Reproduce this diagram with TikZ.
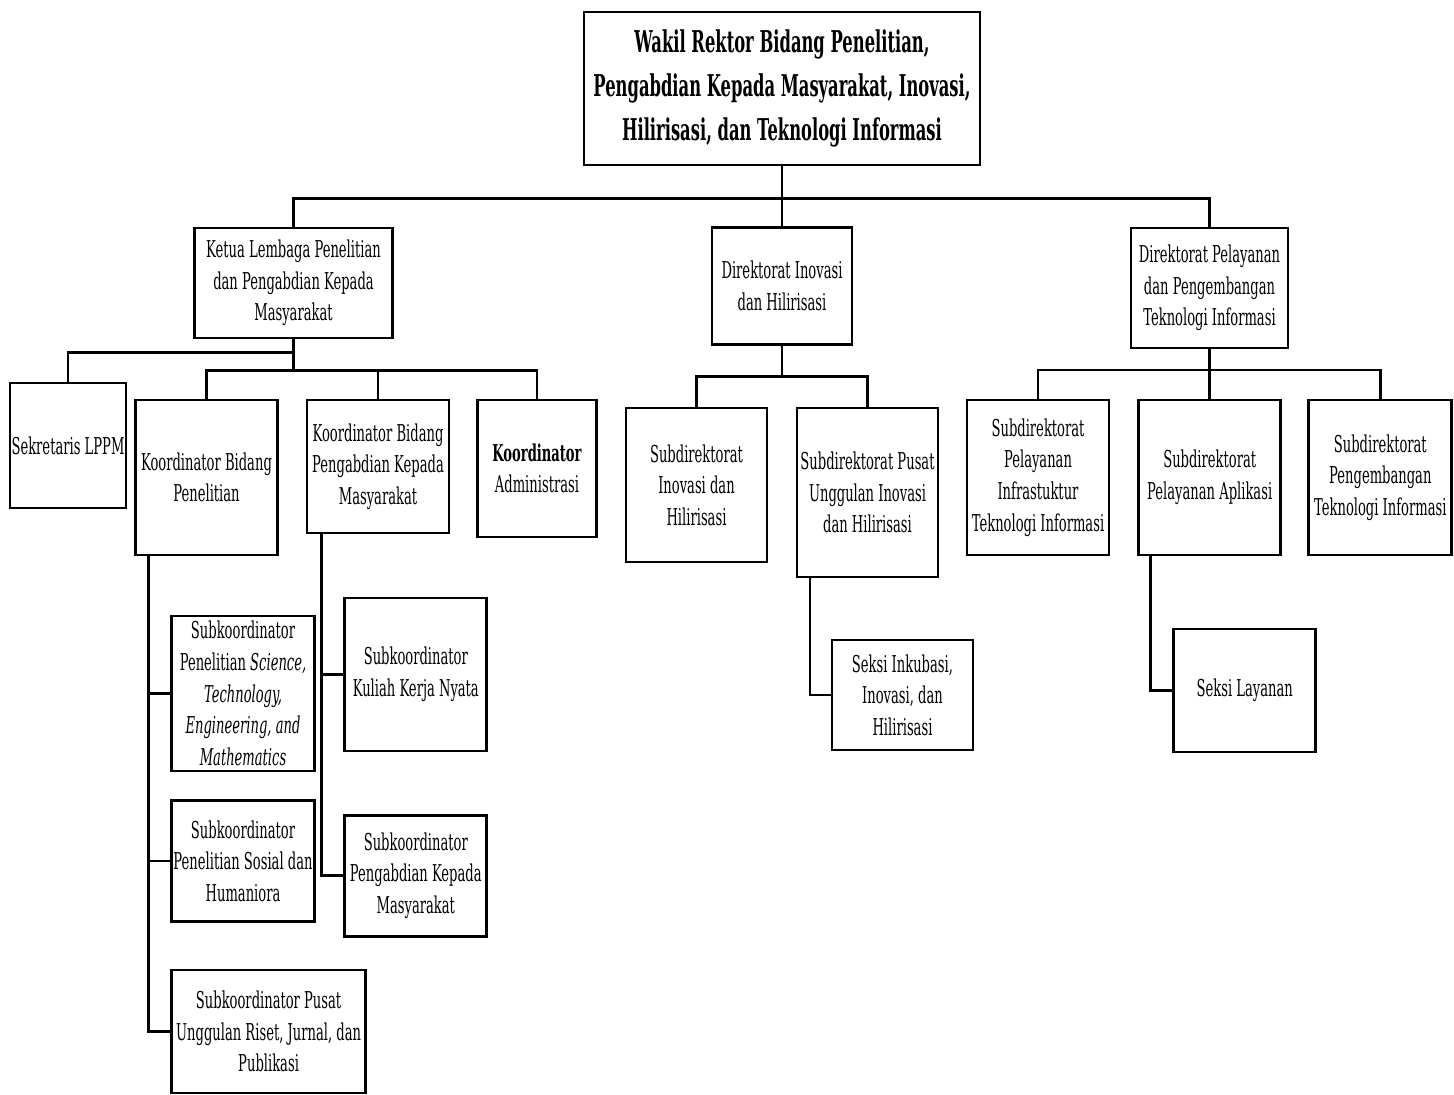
\documentclass[tikz,border=0pt]{standalone}
\usepackage{fontspec}
\setmainfont{DejaVu Serif}[FakeStretch=0.565]
\newfontfamily\headfont{DejaVu Serif}[FakeStretch=0.545]

\begin{document}
\begin{tikzpicture}[x=0.5pt, y=-0.5pt, line width=1.35pt,
  bx/.style 2 args={draw, fill=white, align=center, inner sep=0pt, minimum width=#1*0.5pt, minimum height=#2*0.5pt, font=\fontsize{11.6}{15.8}\selectfont}]
\path[use as bounding box, fill=white] (0,0) rectangle (1454,1095);

% top
\node[bx={396}{153}, font=\headfont\bfseries\fontsize{15}{22}\selectfont] (wr) at (782,88.5) {Wakil Rektor Bidang Penelitian,\\ Pengabdian Kepada Masyarakat, Inovasi,\\ Hilirisasi, dan Teknologi Informasi};

% second level
\node[bx={198}{110}] (lppm) at (293.5,283) {Ketua Lembaga Penelitian\\ dan Pengabdian Kepada\\ Masyarakat};
\node[bx={140}{117}] (dii) at (782,286) {Direktorat Inovasi\\ dan Hilirisasi};
\node[bx={157}{120}] (dpti) at (1209.5,288) {Direktorat Pelayanan\\ dan Pengembangan\\ Teknologi Informasi};

% third level
\node[bx={116}{125}] (sek) at (68,445.5) {Sekretaris LPPM};
\node[bx={142}{155}] (kbp) at (206.5,477.5) {Koordinator Bidang\\ Penelitian};
\node[bx={142}{133}] (kpkm) at (378,466.5) {Koordinator Bidang\\ Pengabdian Kepada\\ Masyarakat};
\node[bx={119}{137}] (kadm) at (537,468.5) {\textbf{Koordinator}\\ Administrasi};
\node[bx={141}{154}] (sii) at (696.5,485) {Subdirektorat\\ Inovasi dan\\ Hilirisasi};
\node[bx={141}{169}] (spu) at (867.5,492.5) {Subdirektorat Pusat\\ Unggulan Inovasi\\ dan Hilirisasi};
\node[bx={142}{155}] (spi) at (1038,477.5) {Subdirektorat\\ Pelayanan\\ Infrastuktur\\ Teknologi Informasi};
\node[bx={142}{155}] (spa) at (1209.7,477.5) {Subdirektorat\\ Pelayanan Aplikasi};
\node[bx={143}{155}] (spt) at (1380.3,477.5) {Subdirektorat\\ Pengembangan\\ Teknologi Informasi};

% fourth level
\node[bx={143}{155}] (stem) at (243,693.5) {Subkoordinator\\ Penelitian \textit{Science,}\\ \textit{Technology,}\\ \textit{Engineering, and}\\ \textit{Mathematics}};
\node[bx={143}{121}] (soshum) at (243,861) {Subkoordinator\\ Penelitian Sosial dan\\ Humaniora};
\node[bx={194}{123}] (pusat) at (268.6,1031.5) {Subkoordinator Pusat\\ Unggulan Riset, Jurnal, dan\\ Publikasi};
\node[bx={142}{153}] (kkn) at (415.8,674.5) {Subkoordinator\\ Kuliah Kerja Nyata};
\node[bx={142}{121}] (spkm) at (415.8,875.7) {Subkoordinator\\ Pengabdian Kepada\\ Masyarakat};
\node[bx={141}{110}] (ski) at (902.5,695) {Seksi Inkubasi,\\ Inovasi, dan\\ Hilirisasi};
\node[bx={142}{123}] (sl) at (1244.8,690.5) {Seksi Layanan};

% connectors
\draw (wr.south) -- (dii.north);
\draw (wr.south) ++(0,32) -| (lppm.north);
\draw (wr.south) ++(0,32) -| (dpti.north);
\draw (lppm.south) ++(0,13) -| (sek.north);
\foreach \n in {kbp,kpkm,kadm} \draw (lppm.south) -- ++(0,31) -| (\n.north);
\foreach \n in {sii,spu} \draw (dii.south) -- ++(0,30.4) -| (\n.north);
\foreach \n in {spi,spa,spt} \draw (dpti.south) -- ++(0,20.6) -| (\n.north);
\foreach \n in {stem,soshum,pusat} \draw (kbp.south west) ++(14.4,0) |- (\n.west);
\foreach \n in {kkn,spkm} \draw (kpkm.south west) ++(16,0) |- (\n.west);
\draw (spu.south west) ++(14.3,0) |- (ski.west);
\draw (spa.south west) ++(13.3,0) |- (sl.west);
\end{tikzpicture}
\end{document}
